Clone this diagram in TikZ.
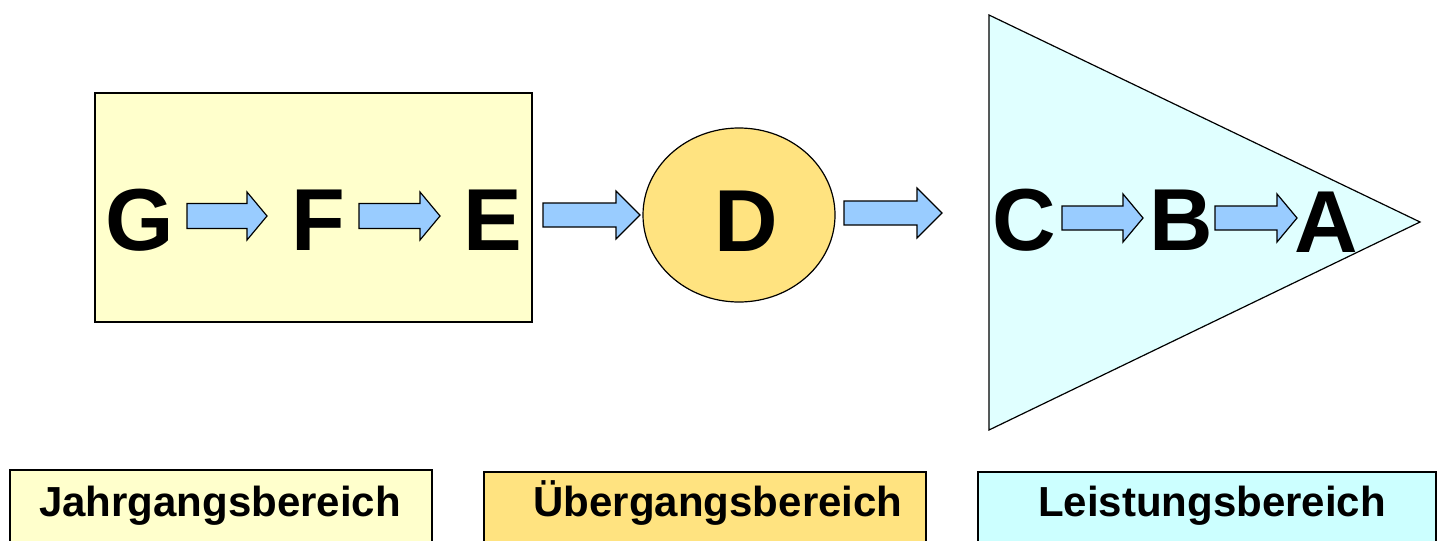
\documentclass[tikz,border=0pt]{standalone}
\usepackage{fontspec}
\setmainfont{Liberation Sans}
\definecolor{lyellow}{HTML}{FFFFCC}
\definecolor{gold}{HTML}{FFE380}
\definecolor{lcyan}{HTML}{E0FFFF}
\definecolor{lcyanbox}{HTML}{CCFFFF}
\definecolor{arrblue}{HTML}{99CCFF}
\tikzset{
  frame/.style={draw=black, line width=0.6pt},
  letter/.style={anchor=base, inner sep=0pt, font=\fontsize{44}{44}\selectfont\bfseries},
  legend/.style={anchor=base, inner sep=0pt, font=\fontsize{21}{21}\selectfont\bfseries},
  arr/.style={draw=black, line width=0.6pt, fill=arrblue, line join=miter},
}
\newcommand{\blkarrow}[6]{% x1 x2 y bodyhalf headhalf headlen
  \draw[arr] (#1,#3-#4) -- (#2-#6,#3-#4) -- (#2-#6,#3-#5) -- (#2,#3) -- (#2-#6,#3+#5) -- (#2-#6,#3+#4) -- (#1,#3+#4) -- cycle;}
\begin{document}
\begin{tikzpicture}[x=0.5pt,y=-0.5pt]
\useasboundingbox (0,0) rectangle (1438,540);
% regions
\draw[frame, fill=lyellow] (95,93) rectangle (532,322);
\draw[frame, fill=gold] (739,215) ellipse [x radius=96, y radius=87];
\draw[frame, fill=lcyan] (989,15) -- (1420,222) -- (989,430) -- cycle;
% letters
\node[letter] (G) at (140,250) {G};
\node[letter] (F) at (318,250) {F};
\node[letter] (E) at (493,250) {E};
\node[letter] (D) at (746,251) {D};
\node[letter] (C) at (1024,250) {C};
\node[letter] (B) at (1181,250) {B};
\node[letter] (A) at (1326,252) {A};
% arrows
\blkarrow{187}{267}{216}{12.5}{24}{20}
\blkarrow{359}{440}{216}{12.5}{24}{20}
\blkarrow{543}{640}{215}{12}{24}{24}
\blkarrow{844}{942}{213}{12}{25}{25}
\blkarrow{1062}{1143}{218}{12}{24}{20}
\blkarrow{1215}{1297}{218}{12}{24}{20}
% legend boxes
\draw[frame, fill=lyellow] (10,560) -- (10,470) -- (432,470) -- (432,560);
\draw[frame, fill=gold] (484,560) -- (484,472) -- (926,472) -- (926,560);
\draw[frame, fill=lcyanbox] (978,560) -- (978,472) -- (1436,472) -- (1436,560);
\node[legend] (l1) at (220,516) {Jahrgangsbereich};
\node[legend] (l2) at (718,516) {Übergangsbereich};
\node[legend] (l3) at (1212,516) {Leistungsbereich};
\end{tikzpicture}
\end{document}
